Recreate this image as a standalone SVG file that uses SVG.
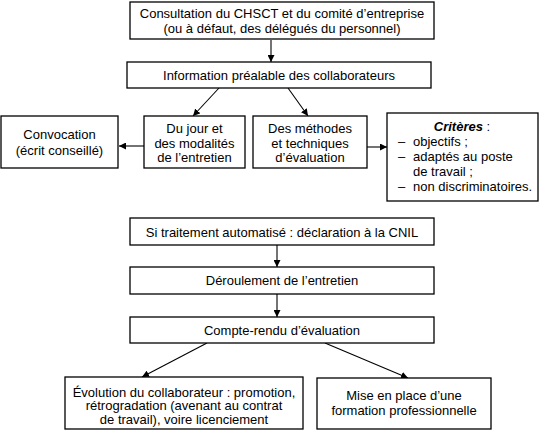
<svg xmlns="http://www.w3.org/2000/svg" width="540" height="430" viewBox="0 0 540 430">
<style>
.box{fill:#fff;stroke:#000;stroke-width:1.3}
text{font-family:"Liberation Sans",Arial,sans-serif;font-size:13px;fill:#000}
.c{text-anchor:middle}
.ln{stroke:#000;stroke-width:1.1;fill:none;marker-end:url(#ah)}
</style>
<defs>
<marker id="ah" viewBox="0 0 10 10" refX="10" refY="5" markerWidth="7" markerHeight="7" markerUnits="userSpaceOnUse" orient="auto">
<path d="M0,0 L10,5 L0,10 z" fill="#000"/>
</marker>
</defs>
<rect width="540" height="430" fill="#fff"/>
<g id="connectors">
<line class="ln" x1="271" y1="40" x2="271" y2="62"/>
<line class="ln" x1="219" y1="88" x2="193" y2="116"/>
<line class="ln" x1="288" y1="88" x2="308" y2="116"/>
<line class="ln" x1="144" y1="146" x2="119" y2="146"/>
<line class="ln" x1="367" y1="147" x2="387" y2="147"/>
<line class="ln" x1="277" y1="245" x2="277" y2="267"/>
<line class="ln" x1="277" y1="294" x2="277" y2="317"/>
<line class="ln" x1="207" y1="343" x2="142" y2="377"/>
<line class="ln" x1="325" y1="343" x2="408" y2="378"/>
</g>
<g id="n1"><rect class="box" x="130" y="2" width="304" height="37"/>
<text class="c" x="282" y="18">Consultation du CHSCT et du comité d’entreprise</text>
<text class="c" x="282" y="33">(ou à défaut, des délégués du personnel)</text></g>
<g id="n2"><rect class="box" x="127" y="62" width="304" height="26"/>
<text class="c" x="279" y="79.5">Information préalable des collaborateurs</text></g>
<g id="n3"><rect class="box" x="1" y="116" width="117" height="52"/>
<text class="c" x="59.5" y="138.5">Convocation</text>
<text class="c" x="59.5" y="155">(écrit conseillé)</text></g>
<g id="n4"><rect class="box" x="144" y="116" width="101" height="52"/>
<text class="c" x="194.5" y="132.5">Du jour et</text>
<text class="c" x="194.5" y="147.5">des modalités</text>
<text class="c" x="194.5" y="162">de l’entretien</text></g>
<g id="n5"><rect class="box" x="253" y="116" width="114" height="52"/>
<text class="c" x="310" y="132.5">Des méthodes</text>
<text class="c" x="310" y="147.5">et techniques</text>
<text class="c" x="310" y="162">d’évaluation</text></g>
<g id="n6"><rect class="box" x="387" y="113" width="151" height="88"/>
<text class="c" x="462" y="131"><tspan font-weight="bold" font-style="italic">Critères</tspan> :</text>
<text x="398" y="146">–</text><text x="413" y="146">objectifs ;</text>
<text x="398" y="161">–</text><text x="413" y="161">adaptés au poste</text>
<text x="413" y="176">de travail ;</text>
<text x="398" y="191">–</text><text x="413" y="191">non discriminatoires.</text></g>
<g id="n7"><rect class="box" x="130" y="218" width="304" height="27"/>
<text class="c" x="282" y="236.5">Si traitement automatisé : déclaration à la CNIL</text></g>
<g id="n8"><rect class="box" x="130" y="267" width="304" height="27"/>
<text class="c" x="282" y="285">Déroulement de l’entretien</text></g>
<g id="n9"><rect class="box" x="130" y="317" width="304" height="26"/>
<text class="c" x="282" y="335">Compte-rendu d’évaluation</text></g>
<g id="n10"><rect class="box" x="65" y="377" width="238" height="52"/>
<text class="c" x="184" y="396.5">Évolution du collaborateur : promotion,</text>
<text class="c" x="184" y="410">rétrogradation (avenant au contrat</text>
<text class="c" x="184" y="423.5">de travail), voire licenciement</text></g>
<g id="n11"><rect class="box" x="317" y="378" width="174" height="51"/>
<text class="c" x="404" y="399.5">Mise en place d’une</text>
<text class="c" x="404" y="414.5">formation professionnelle</text></g>
</svg>
